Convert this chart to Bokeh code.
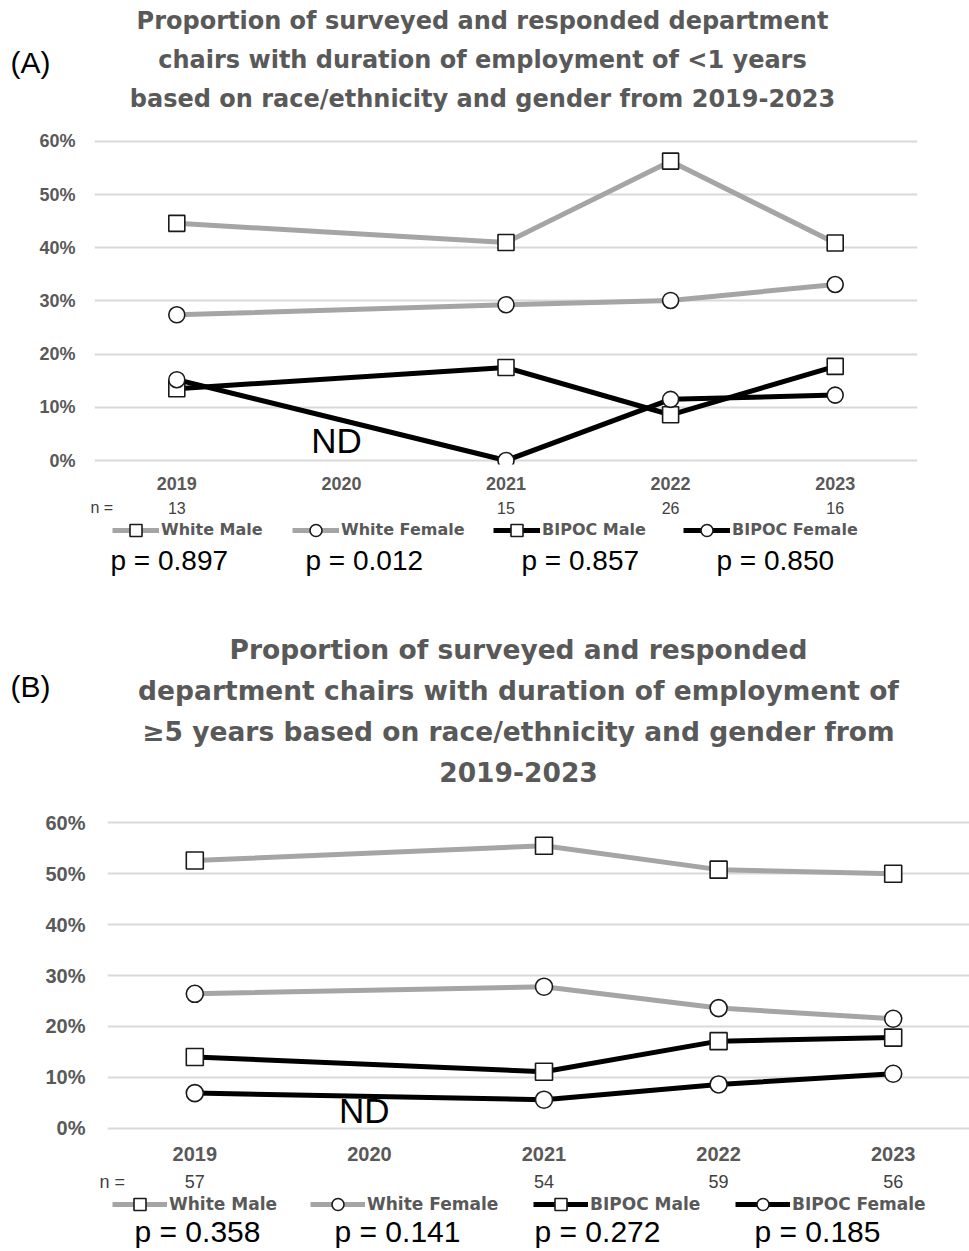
from bokeh.plotting import figure
from bokeh.models import (Range1d, FixedTicker, Label, Legend, LegendItem,
                          NumeralTickFormatter)
from bokeh.embed import file_html
from bokeh.resources import INLINE

# ---------------------------------------------------------------- data
years = ["2019", "2020", "2021", "2022", "2023"]
data_years = ["2019", "2021", "2022", "2023"]      # 2020: no data (ND)
series_names = ["White Male", "White Female", "BIPOC Male", "BIPOC Female"]

# (A) tenure < 1 year, percent of respondents
a_white_male = [44.6, 41.0, 56.3, 40.9]
a_white_female = [27.4, 29.3, 30.1, 33.1]
a_bipoc_male = [13.5, 17.5, 8.6, 17.7]
a_bipoc_female = [15.2, 0.0, 11.5, 12.3]
a_n = ["13", "", "15", "26", "16"]
a_p = ["0.897", "0.012", "0.857", "0.850"]
a_title = ["Proportion of surveyed and responded department",
           "chairs with duration of employment of <1 years",
           "based on race/ethnicity and gender from 2019-2023"]

# (B) tenure >= 5 years, percent of respondents
b_white_male = [52.6, 55.5, 50.8, 50.0]
b_white_female = [26.4, 27.8, 23.6, 21.5]
b_bipoc_male = [14.0, 11.1, 17.1, 17.8]
b_bipoc_female = [6.9, 5.6, 8.6, 10.7]
b_n = ["57", "", "54", "59", "56"]
b_p = ["0.358", "0.141", "0.272", "0.185"]
b_title = ["Proportion of surveyed and responded",
           "department chairs with duration of employment of",
           "\u22655 years based on race/ethnicity and gender from",
           "2019-2023"]

y_ticks = [i / 10 for i in range(7)]

# ---------------------------------------------------------------- style
W = 969
GRAY = "#A5A5A5"
BLACK = "#000000"
TEXT_GRAY = "#595959"
N_COLOR = "#404040"
series_style = [(GRAY, "square"), (GRAY, "circle"),
                (BLACK, "square"), (BLACK, "circle")]


def blank(height, x_range, y_range):
    """A figure whose frame fills the whole canvas, used for text blocks."""
    f = figure(width=W, height=height, output_backend="svg",
               toolbar_location=None, x_range=x_range, y_range=y_range,
               x_axis_type=None, y_axis_type=None,
               min_border_left=0, min_border_right=0,
               min_border_top=0, min_border_bottom=0)
    f.outline_line_color = None
    f.border_fill_color = "white"
    f.background_fill_color = "white"
    return f


def text(f, x, y, s, font="Liberation Sans", size="16px", style="normal",
         color=BLACK, align="left"):
    f.add_layout(Label(x=x, y=y, text=s, text_font=font, text_font_size=size,
                       text_font_style=style, text_color=color,
                       text_align=align, text_baseline="middle"))


def draw_series(f, series, marker_size):
    xs = [years.index(y) for y in data_years]
    out = []
    for vals, (color, marker) in zip(series, series_style):
        ys = [v / 100 for v in vals]
        lr = f.line(xs, ys, line_color=color, line_width=5)
        sr = f.scatter(xs, ys, marker=marker, size=marker_size,
                       fill_color="white", line_color="#1a1a1a",
                       line_width=1.6)
        out.append((lr, sr))
    return out


def build_panel(cfg):
    # ---------------- header: panel tag and title
    h_top, h_bot = cfg["header"]
    head = blank(h_bot - h_top, Range1d(0, W), Range1d(h_bot, h_top))
    text(head, 10, cfg["tag_y"], cfg["tag"], size="30px")
    for line, cy in zip(cfg["title"], cfg["title_y"]):
        text(head, cfg["title_cx"], cy, line, font="DejaVu Sans",
             size=cfg["title_fs"], style="bold", color=TEXT_GRAY,
             align="center")

    # ---------------- chart
    c_top, c_bot = cfg["chart"]
    left, right = cfg["left"], cfg["right"]
    top, fh = cfg["frame_top"] - c_top, cfg["frame_h"]
    xu, yu = cfg["x_unit"], cfg["y_unit"]
    fw = W - left - right
    fb = cfg["frame_top"] + fh
    y_lo = -(fb - cfg["zero_y"]) / yu
    y_hi = y_lo + fh / yu
    x_lo = -0.5
    x_hi = x_lo + fw / xu

    p = figure(width=W, height=c_bot - c_top, output_backend="svg",
               toolbar_location=None,
               x_range=Range1d(x_lo, x_hi), y_range=Range1d(y_lo, y_hi),
               min_border_left=left, min_border_right=right,
               min_border_top=top, min_border_bottom=c_bot - c_top - top - fh)
    p.outline_line_color = None
    p.background_fill_color = "white"
    p.border_fill_color = "white"
    p.xaxis.ticker = FixedTicker(ticks=list(range(len(years))))
    p.xaxis.major_label_overrides = {i: y for i, y in enumerate(years)}
    p.yaxis.ticker = FixedTicker(ticks=y_ticks)
    p.yaxis.formatter = NumeralTickFormatter(format="0%")
    for ax in (p.xaxis, p.yaxis):
        ax.axis_line_color = None
        ax.major_tick_line_color = None
        ax.minor_tick_line_color = None
        ax.major_tick_out = 0
        ax.major_tick_in = 0
        ax.minor_tick_out = 0
        ax.major_label_text_font = "Liberation Sans"
        ax.major_label_text_font_style = "bold"
        ax.major_label_text_font_size = cfg["tick_fs"]
        ax.major_label_text_color = TEXT_GRAY
    p.xaxis.major_label_standoff = cfg["x_standoff"]
    p.yaxis.major_label_standoff = cfg["y_standoff"]
    p.xgrid.visible = False
    p.ygrid.grid_line_color = "#D9D9D9"
    p.ygrid.grid_line_width = 2

    draw_series(p, cfg["series"], cfg["marker"])
    nd_y = y_lo + (fb - cfg["nd_y"]) / yu
    text(p, years.index("2020") + cfg["nd_dx"], nd_y, "ND", size="35px",
         align="center")

    # ---------------- footer: counts, legend, p-values
    f_top, f_bot = cfg["footer"]
    fx_lo = x_lo - left / xu
    fx_hi = x_hi + right / xu
    foot = blank(f_bot - f_top, Range1d(fx_lo, fx_hi), Range1d(f_bot, f_top))

    def fx(px):
        return fx_lo + px / xu

    text(foot, fx(cfg["n_x"]), cfg["n_y"], "n =", size=cfg["n_fs"],
         color=N_COLOR)
    for i, n in enumerate(cfg["n"]):
        if n:
            text(foot, i, cfg["n_y"], n, size=cfg["n_fs"], color=N_COLOR,
                 align="center")
    for pv, px in zip(cfg["p"], cfg["p_x"]):
        text(foot, fx(px), cfg["p_y"], "p = " + pv, size=cfg["p_fs"])

    # legend swatches reuse the series styling (data sit outside this view)
    legend_r = draw_series(foot, cfg["series"], cfg["marker"])
    for name, (lr, sr), gx in zip(series_names, legend_r, cfg["legend_x"]):
        lg = Legend(items=[LegendItem(label=name, renderers=[lr, sr])],
                    location=(gx, f_bot - (cfg["legend_y"] + 15)),
                    orientation="horizontal", padding=0, margin=0, spacing=0,
                    label_standoff=2, glyph_width=cfg["glyph_w"],
                    glyph_height=30, border_line_color=None,
                    background_fill_alpha=0,
                    label_text_font="DejaVu Sans",
                    label_text_font_style="bold",
                    label_text_font_size=cfg["legend_fs"],
                    label_text_color=TEXT_GRAY)
        foot.add_layout(lg)

    return [head, p, foot]


panel_a = build_panel(dict(
    header=(0, 130), chart=(130, 497), footer=(497, 600),
    tag="(A)", tag_y=62, title=a_title, title_y=[20.5, 59, 98],
    title_cx=482, title_fs="24px",
    left=94, right=52, frame_top=138, frame_h=326,
    x_unit=164.6, y_unit=531.7, zero_y=460,
    series=[a_white_male, a_white_female, a_bipoc_male, a_bipoc_female],
    marker=16, tick_fs="18px", x_standoff=12, y_standoff=19,
    nd_y=440, nd_dx=-0.03,
    n=a_n, n_x=90, n_y=507, n_fs="16px",
    legend_x=[112, 292, 493, 683], legend_y=529.5, glyph_w=47,
    legend_fs="16px",
    p=a_p, p_x=[110, 305, 521, 716], p_y=560, p_fs="28px",
))

panel_b = build_panel(dict(
    header=(600, 810), chart=(810, 1169), footer=(1169, 1251),
    tag="(B)", tag_y=686, title=b_title, title_y=[649, 690, 731, 771],
    title_cx=518, title_fs="26.5px",
    left=107, right=0, frame_top=819, frame_h=312,
    x_unit=174.6, y_unit=509.0, zero_y=1127.7,
    series=[b_white_male, b_white_female, b_bipoc_male, b_bipoc_female],
    marker=17, tick_fs="20px", x_standoff=15, y_standoff=22,
    nd_y=1109.5, nd_dx=-0.03,
    n=b_n, n_x=99, n_y=1181, n_fs="18px",
    legend_x=[112, 310, 533, 735], legend_y=1203.5, glyph_w=55,
    legend_fs="17px",
    p=b_p, p_x=[134, 334, 534, 754], p_y=1231, p_fs="30px",
))

open("out.html", "w").write(file_html(panel_a + panel_b, INLINE))
